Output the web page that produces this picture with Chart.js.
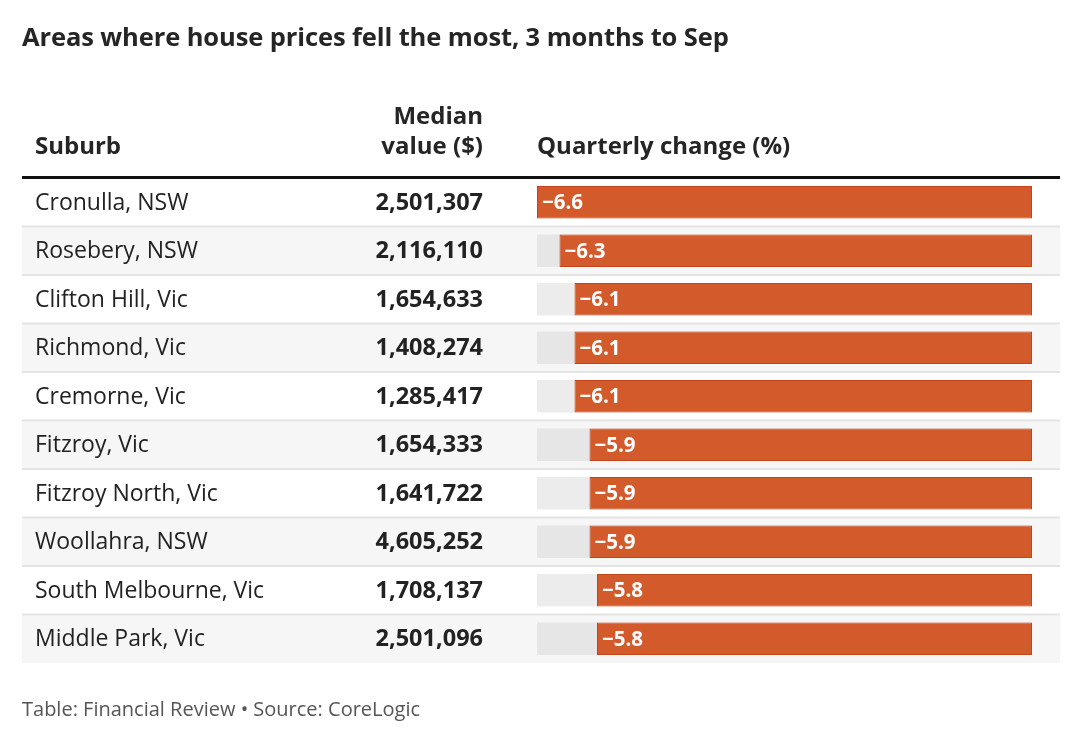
<!DOCTYPE html>
<html>
<head>
<meta charset="utf-8">
<script src="https://cdn.jsdelivr.net/npm/chart.js@4.4.1/dist/chart.umd.min.js"></script>
<style>
  html, body { margin: 0; padding: 0; background: #fff; }
  body { width: 1080px; height: 740px; position: relative; overflow: hidden; font-family: "Open Sans", sans-serif; color: #222; }
  #wrap { position: absolute; left: 0; top: 0; width: 1080px; height: 740px; }
  .txt { position: absolute; white-space: nowrap; }
  .title { left: 22px; top: 19px; font-size: 25.5px; font-weight: 700; color: #252525; letter-spacing: -0.1px; }
  .head { font-size: 24px; font-weight: 700; color: #252525; line-height: 30px; }
  .foot { left: 22px; top: 695px; font-size: 20px; color: #555; }
</style>
</head>
<body>
<div id="wrap"><canvas id="tableChart" width="1080" height="740"></canvas></div>
<div class="txt title">Areas where house prices fell the most, 3 months to Sep</div>
<div class="txt head" style="left:35px; top:130px;">Suburb</div>
<div class="txt head" style="right:597px; top:100px; text-align:right;">Median<br>value ($)</div>
<div class="txt head" style="left:537px; top:130px;">Quarterly change (%)</div>
<div class="txt foot">Table: Financial Review • Source: CoreLogic</div>
<script>
const suburbs = ['Cronulla, NSW', 'Rosebery, NSW', 'Clifton Hill, Vic', 'Richmond, Vic', 'Cremorne, Vic',
  'Fitzroy, Vic', 'Fitzroy North, Vic', 'Woollahra, NSW', 'South Melbourne, Vic', 'Middle Park, Vic'];
const medianValues = [2501307, 2116110, 1654633, 1408274, 1285417, 1654333, 1641722, 4605252, 1708137, 2501096];
const quarterlyChange = [-6.6, -6.3, -6.1, -6.1, -6.1, -5.9, -5.9, -5.9, -5.8, -5.8];

const fmtValue = (v) => v.toLocaleString('en-US');
const fmtChange = (v) => '\u2212' + Math.abs(v).toFixed(1);

// rows, tracks, suburb names and values
const tablePlugin = {
  id: 'tableRows',
  beforeDatasetsDraw(chart) {
    const { ctx, scales: { x, y } } = chart;
    const band = y.getPixelForValue(1) - y.getPixelForValue(0);
    const left = 22, right = 1060;
    const x0 = x.getPixelForValue(x.min), x1 = x.getPixelForValue(0);
    ctx.save();
    suburbs.forEach((s, i) => {
      const cy = y.getPixelForValue(i);
      const top = cy - band / 2;
      if (i % 2 === 1) {
        ctx.fillStyle = '#f6f6f6';
        ctx.fillRect(left, top, right - left, band);
      }
      if (i > 0) {
        ctx.fillStyle = '#e4e4e4';
        ctx.fillRect(left, top - 1, right - left, 2);
      }
      // grey track
      const h = band * 0.67;
      ctx.fillStyle = i % 2 === 1 ? '#e6e6e6' : '#ececec';
      ctx.fillRect(x0, cy - h / 2, x1 - x0, h);

      ctx.fillStyle = '#222';
      ctx.textBaseline = 'middle';
      ctx.font = '23px "Open Sans", sans-serif';
      ctx.textAlign = 'left';
      ctx.fillText(s, 35, cy + 1);
      ctx.font = 'bold 23.5px "Open Sans", sans-serif';
      ctx.textAlign = 'right';
      ctx.fillText(fmtValue(medianValues[i]), 483, cy + 1);
    });
    // header rule
    ctx.fillStyle = '#111';
    ctx.fillRect(left, y.top - 2, right - left, 3);
    ctx.restore();
  },
  afterDatasetsDraw(chart) {
    const { ctx, scales: { x, y } } = chart;
    ctx.save();
    ctx.fillStyle = '#fff';
    ctx.font = 'bold 20.5px "Open Sans", sans-serif';
    ctx.textBaseline = 'middle';
    ctx.textAlign = 'left';
    quarterlyChange.forEach((v, i) => {
      ctx.fillText(fmtChange(v), x.getPixelForValue(v) + 5, y.getPixelForValue(i) + 1);
    });
    ctx.restore();
  }
};

new Chart(document.getElementById('tableChart'), {
  type: 'bar',
  data: {
    labels: suburbs,
    datasets: [{
      label: 'Quarterly change (%)',
      data: quarterlyChange,
      backgroundColor: '#d35a2b',
      borderColor: '#c2461a',
      borderWidth: 1,
      borderSkipped: false,
      barPercentage: 0.67,
      categoryPercentage: 1
    }]
  },
  options: {
    indexAxis: 'y',
    responsive: false,
    animation: false,
    events: [],
    layout: { padding: { left: 537, right: 48, top: 178, bottom: 77 } },
    scales: {
      x: { display: false, min: -6.6, max: 0 },
      y: { display: false, offset: true }
    },
    plugins: {
      legend: { display: false },
      tooltip: { enabled: false }
    }
  },
  plugins: [tablePlugin]
});
</script>
</body>
</html>
